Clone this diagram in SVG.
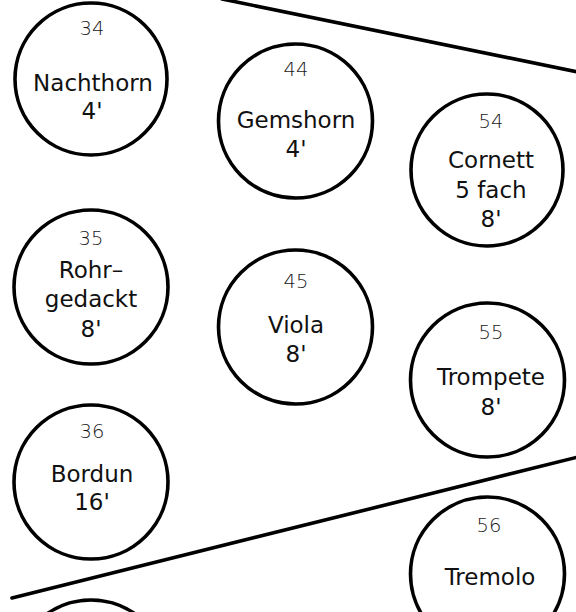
<svg xmlns="http://www.w3.org/2000/svg" width="576" height="612" viewBox="0 0 576 612">
<style>
.c{fill:#fff;stroke:#000;stroke-width:3.6}
.n{font-family:"DejaVu Sans","Liberation Sans",sans-serif;font-size:19.5px;font-weight:200;fill:#1a1a1a;text-anchor:middle}
.t{font-family:"DejaVu Sans","Liberation Sans",sans-serif;font-size:23px;fill:#111;text-anchor:middle}
.l{stroke:#000;stroke-width:3.6;fill:none;stroke-linecap:round}
</style>
<rect width="576" height="612" fill="#fff"/>
<g id="connectors">
<line class="l" x1="222" y1="-1" x2="578" y2="72"/>
<line class="l" x1="12" y1="598" x2="578" y2="457"/>
</g>
<g id="n34"><circle class="c" cx="91" cy="79" r="76"/><text class="n" x="92" y="35">34</text><text class="t" x="93" y="91">Nachthorn</text><text class="t" x="92" y="119">4'</text></g>
<g id="n44"><circle class="c" cx="295.5" cy="121" r="77"/><text class="n" x="296" y="76">44</text><text class="t" x="296" y="128">Gemshorn</text><text class="t" x="296" y="157">4'</text></g>
<g id="n54"><circle class="c" cx="487" cy="170" r="76"/><text class="n" x="491" y="128">54</text><text class="t" x="491" y="168">Cornett</text><text class="t" x="491" y="198">5 fach</text><text class="t" x="491" y="227">8'</text></g>
<g id="n35"><circle class="c" cx="91" cy="287" r="77"/><text class="n" x="91" y="245">35</text><text class="t" x="91" y="278">Rohr–</text><text class="t" x="91" y="307">gedackt</text><text class="t" x="91" y="337">8'</text></g>
<g id="n45"><circle class="c" cx="295.5" cy="327" r="77"/><text class="n" x="296" y="288">45</text><text class="t" x="296" y="333">Viola</text><text class="t" x="296" y="362">8'</text></g>
<g id="n55"><circle class="c" cx="487.5" cy="380" r="77"/><text class="n" x="491" y="339">55</text><text class="t" x="491" y="385">Trompete</text><text class="t" x="491" y="415">8'</text></g>
<g id="n36"><circle class="c" cx="91" cy="482" r="77"/><text class="n" x="92" y="438">36</text><text class="t" x="92" y="482">Bordun</text><text class="t" x="92" y="510">16'</text></g>
<g id="n56"><circle class="c" cx="487.5" cy="574" r="77"/><text class="n" x="489" y="532">56</text><text class="t" x="490" y="585">Tremolo</text></g>
<g id="n37"><circle class="c" cx="91" cy="677" r="77"/></g>
</svg>
